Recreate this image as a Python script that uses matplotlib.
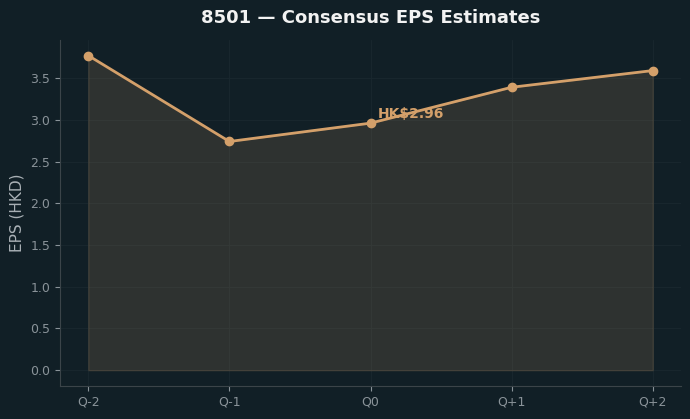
import matplotlib
matplotlib.use("Agg")
import matplotlib.pyplot as plt

quarters = ["Q-2", "Q-1", "Q0", "Q+1", "Q+2"]
eps = [3.77, 2.74, 2.96, 3.39, 3.59]
ticker = "8501"
current_label = "HK$2.96"

BG = "#111f26"
LINE = "#d4a06a"

fig = plt.figure(figsize=(6.9, 4.19), dpi=100, facecolor=BG)
ax = fig.add_axes([0.087, 0.079, 0.9, 0.826])
ax.set_facecolor(BG)

x = list(range(len(quarters)))
ax.fill_between(x, eps, 0, color=LINE, alpha=0.15)
ax.plot(x, eps, color=LINE, lw=2, marker="o", ms=6)
ax.annotate(current_label, (2, eps[2]), xytext=(5, 1.5), textcoords="offset points",
            color=LINE, fontsize=10, fontweight="bold", ha="left", va="bottom")

ax.set_xticks(x)
ax.set_xticklabels(quarters)
ax.set_ylabel("EPS (HKD)", color="#a9b0b5", fontsize=11)
ax.set_title(f"{ticker} — Consensus EPS Estimates", color="#f2f2f2",
             fontsize=13, fontweight="bold", pad=12)

ax.grid(True, color="#1a282f", lw=0.6)
ax.set_axisbelow(True)
for s in ["top", "right"]:
    ax.spines[s].set_visible(False)
for s in ["left", "bottom"]:
    ax.spines[s].set_color("#3b4449")
ax.tick_params(colors="#8a9399", labelsize=9)
for lab in ax.get_xticklabels() + ax.get_yticklabels():
    lab.set_color("#8a9399")

fig.savefig("out.png", dpi=100, facecolor=BG)
